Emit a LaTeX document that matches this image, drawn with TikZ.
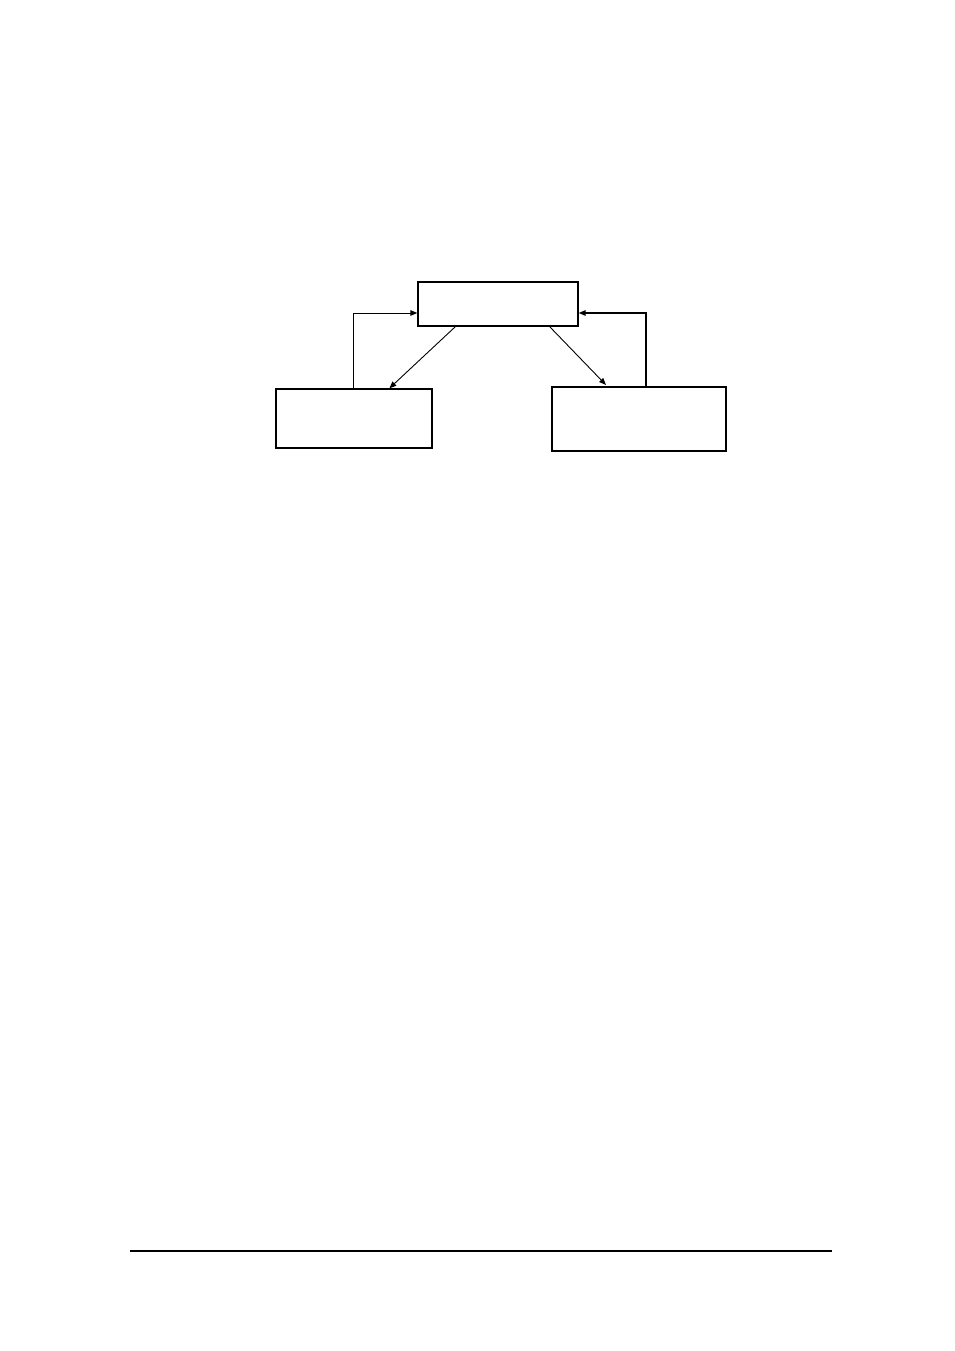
\documentclass[tikz,border=0pt]{standalone}
\usetikzlibrary{arrows.meta,calc}
\begin{document}
\begin{tikzpicture}[x=1pt,y=-1pt,
  box/.style={draw,line width=1.3pt,rectangle,inner sep=0pt},
  conn/.style={line width=0.9pt,-{Triangle[length=7pt,width=5.5pt]}}]
\useasboundingbox[fill=white] (0,0) rectangle (954,1351);
\node[box,minimum width=160pt,minimum height=44pt] (top) at (498,304) {};
\node[box,minimum width=156pt,minimum height=59pt] (left) at (354,418.5) {};
\node[box,line width=2pt,minimum width=174pt,minimum height=64pt] (right) at (639,419) {};
\draw[conn] ($(top.south west)+(38,0)$) -- ($(left.north west)+(114,0)$);
\draw[conn] ($(top.south east)+(-29,0)$) -- ($(right.north west)+(55,-1)$);
\draw[conn] ($(left.north)+(-1,0)$) |- ($(top.west)+(0,9)$);
\draw[conn,line width=1.4pt] ($(right.north)+(7,0)$) |- ($(top.east)+(0,9)$);
\coordinate (ra) at (130,1251);
\coordinate (rb) at (832,1251);
\draw[line width=2.2pt] (ra) -- (rb);
\end{tikzpicture}
\end{document}
